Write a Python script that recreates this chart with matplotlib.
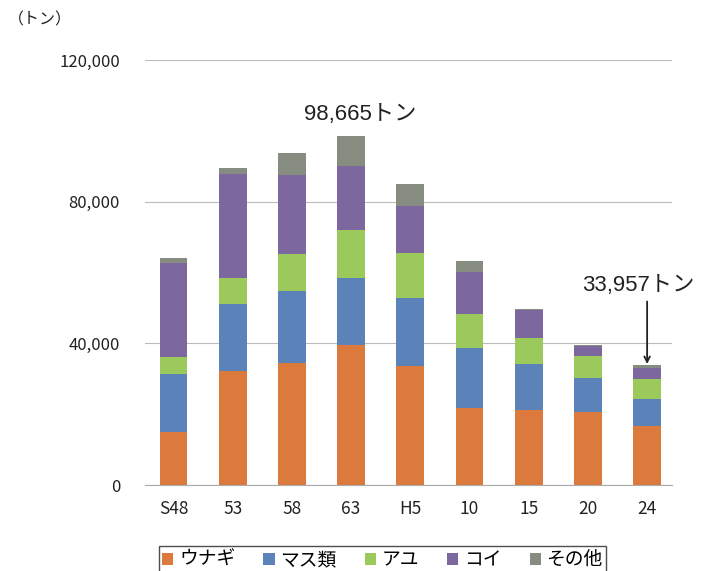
import numpy as np
import matplotlib
matplotlib.use('Agg')
from matplotlib import pyplot as plt
from matplotlib.ticker import FuncFormatter

plt.rcParams['font.family'] = ['Noto Sans CJK JP', 'DejaVu Sans']

years = ['S48', '53', '58', '63', 'H5', '10', '15', '20', '24']
series = ['ウナギ', 'マス類', 'アユ', 'コイ', 'その他']
unagi = [15000, 32100, 34500, 39500, 33700, 21800, 21300, 20500, 16600]
masu = [16400, 19000, 20300, 18900, 19200, 16800, 12900, 9800, 7800]
ayu = [4700, 7300, 10300, 13600, 12500, 9700, 7300, 6000, 5500]
koi = [26700, 29400, 22500, 18100, 13300, 11900, 7900, 3000, 3100]
sonota = [1400, 1700, 6100, 8565, 6400, 3000, 300, 300, 957]
colors = ['#DB7A3C', '#5B83B9', '#9BC95C', '#7D679F', '#868C80']

fig = plt.figure(figsize=(7.11, 5.71), dpi=100)
ax = fig.add_axes([145/711, 1-485/571, 527/711, 425/571])

x = np.arange(len(years))
bottom = np.zeros(len(years))
for name, vals, c in zip(series, [unagi, masu, ayu, koi, sonota], colors):
    ax.bar(x, vals, 0.47, bottom=bottom, color=c, label=name)
    bottom += np.array(vals)

ax.set_ylim(0, 120000)
ax.set_xlim(-0.48, 8.42)
ax.set_yticks([0, 40000, 80000, 120000])
ax.yaxis.set_major_formatter(FuncFormatter(lambda v, p: f'{int(v):,}'))
ax.grid(axis='y', color='#BBBBBB', lw=0.8)
ax.set_axisbelow(True)
for s in ['top', 'right', 'left']:
    ax.spines[s].set_visible(False)
ax.spines['bottom'].set_color('#AAAAAA')
ax.tick_params(axis='y', length=0, pad=18, labelsize=12, labelcolor='#222222')
ax.tick_params(axis='x', length=0, pad=11, labelsize=12.5, labelcolor='#222222')
ax.set_xticks(x)
ax.set_xticklabels(years)

fig.text(8/711, 1-20/571, '（トン）', fontsize=11.5, va='center', color='#222222')

ax.text(3.15, 104500, '98,665トン', ha='center', va='center', fontsize=16,
        family=['Liberation Sans', 'Noto Sans CJK JP'], color='#222222')
ax.text(7.85, 53400, '33,957トン', ha='center', va='bottom', fontsize=16,
        family=['Liberation Sans', 'Noto Sans CJK JP'], color='#222222')
ax.annotate('', xy=(8, bottom[8] + 200), xytext=(8, 51800),
            arrowprops=dict(arrowstyle='->', color='#222222', lw=1.3, shrinkA=0, shrinkB=0))

leg = fig.legend(loc='upper left', bbox_to_anchor=(150/711, 1-537/571), ncol=5,
                 frameon=True, fontsize=13.5, handlelength=0.6, handleheight=0.6,
                 handletextpad=0.3, columnspacing=1.5, borderpad=0.15, fancybox=False)
leg.get_frame().set_edgecolor('#222222')
leg.get_frame().set_linewidth(1.0)

plt.savefig('out.png', dpi=100)
